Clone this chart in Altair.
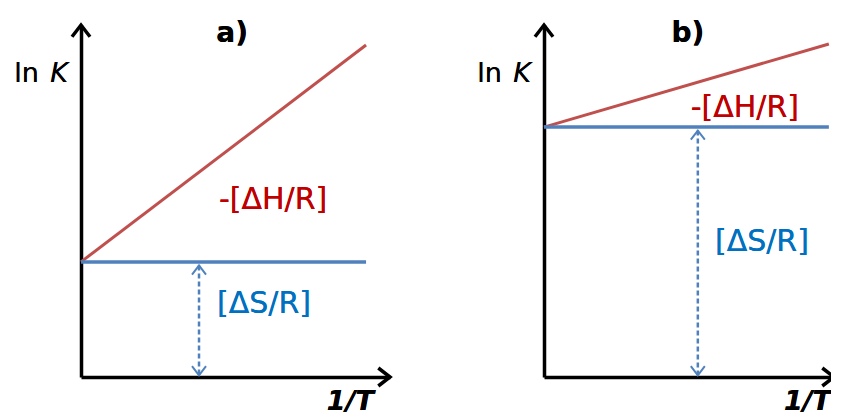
import altair as alt
import pandas as pd

# ---- data (in units of the axis lengths) ----
panels = ["a)", "b)"]
intercept = [0.327, 0.710]      # ln K at 1/T = 0  ->  [ΔS/R]
lnk_end = [0.943, 0.946]        # ln K at the right end of the line (1/T = 1)
x_start = [0.0, 0.0]
x_end = [1.0, 1.0]
arrow_x = [0.414, 0.540]        # 1/T where the dashed [ΔS/R] arrow stands
x_axis_max = [1.084, 1.018]
y_axis_max = [1.0, 1.0]

dh_label = "-[ΔH/R]"
ds_label = "[ΔS/R]"

FONT = "DejaVu Sans"
RED_LINE = "#C0504D"
BLUE_LINE = "#4F81BD"
RED_TEXT = "#C00000"
BLUE_TEXT = "#0070C0"

UP = "M-1,1.3L0,0L1,1.3"
DOWN = "M-1,-1.3L0,0L1,-1.3"
RIGHT = "M-1.3,-1L0,0L-1.3,1"


def panel(i, width, title_pos, dh_pos, ds_pos, t_pos):
    ax = alt.Axis(domain=True, domainColor="black", domainWidth=3.5, ticks=False,
                  labels=False, grid=False, title=None)
    xs = alt.Scale(domain=[0, x_axis_max[i]], nice=False, zero=False)
    ys = alt.Scale(domain=[0, y_axis_max[i]], nice=False, zero=False)

    def X(f="x"):
        return alt.X(f"{f}:Q", scale=xs, axis=ax)

    def Y(f="y"):
        return alt.Y(f"{f}:Q", scale=ys, axis=ax)

    red = pd.DataFrame({"x": [x_start[i], x_end[i]], "y": [intercept[i], lnk_end[i]]})
    blue = pd.DataFrame({"x": [x_start[i], x_end[i]], "y": [intercept[i], intercept[i]]})
    dashed = pd.DataFrame({"x": [arrow_x[i]], "y": [intercept[i] - 0.01], "y0": [0.005]})
    tops = pd.DataFrame({"x": [arrow_x[i]], "y": [intercept[i] - 0.01]})
    bots = pd.DataFrame({"x": [arrow_x[i]], "y": [0.005]})
    up_tip = pd.DataFrame({"x": [0.0], "y": [y_axis_max[i]]})
    right_tip = pd.DataFrame({"x": [x_axis_max[i]], "y": [0.0]})

    layers = [
        alt.Chart(red).mark_line(color=RED_LINE, strokeWidth=3).encode(x=X(), y=Y()),
        alt.Chart(blue).mark_line(color=BLUE_LINE, strokeWidth=3.5).encode(x=X(), y=Y()),
        alt.Chart(dashed).mark_rule(color=BLUE_LINE, strokeWidth=2.5, strokeDash=[5, 3]).encode(
            x=X(), y=Y(), y2="y0:Q"),
        alt.Chart(tops).mark_point(shape=UP, size=196, strokeWidth=2, color=BLUE_LINE, opacity=1).encode(x=X(), y=Y()),
        alt.Chart(bots).mark_point(shape=DOWN, size=196, strokeWidth=2, color=BLUE_LINE, opacity=1).encode(x=X(), y=Y()),
        alt.Chart(up_tip).mark_point(shape=UP, size=324, strokeWidth=3.5, color="black", opacity=1).encode(x=X(), y=Y()),
        alt.Chart(right_tip).mark_point(shape=RIGHT, size=324, strokeWidth=3.5, color="black", opacity=1).encode(x=X(), y=Y()),
    ]

    def txt(text, pos, **kw):
        return alt.Chart(red).mark_text(text=text, font=FONT, baseline="middle", align="center", **kw).encode(
            x=alt.datum(pos[0]), y=alt.datum(pos[1]))

    layers += [
        txt(panels[i], title_pos, fontSize=28, fontWeight="bold", color="black"),
        txt("ln", (-0.191, 0.86), fontSize=27, color="black"),
        txt("K", (-0.077, 0.86), fontSize=27, fontStyle="italic", color="black"),
        txt(dh_label, dh_pos, fontSize=30, color=RED_TEXT),
        txt(ds_label, ds_pos, fontSize=30, color=BLUE_TEXT),
        txt("1/T", t_pos, fontSize=27, fontWeight="bold", fontStyle="italic", color="black"),
    ]
    return alt.layer(*layers).properties(width=width, height=352)


pa = panel(0, 309, (0.53, 0.975), (0.674, 0.503), (0.642, 0.208), (0.945, -0.07))
pb = panel(1, 290, (0.505, 0.975), (0.705, 0.765), (0.765, 0.384), (0.925, -0.07))

chart = alt.hconcat(pa, pb, spacing=154, bounds="flush").properties(
    padding={"left": 6, "top": 10, "right": -10, "bottom": 0},
    background="white",
).configure_view(stroke=None)

chart.save("out.html", embed_options={"renderer": "svg", "actions": False})
